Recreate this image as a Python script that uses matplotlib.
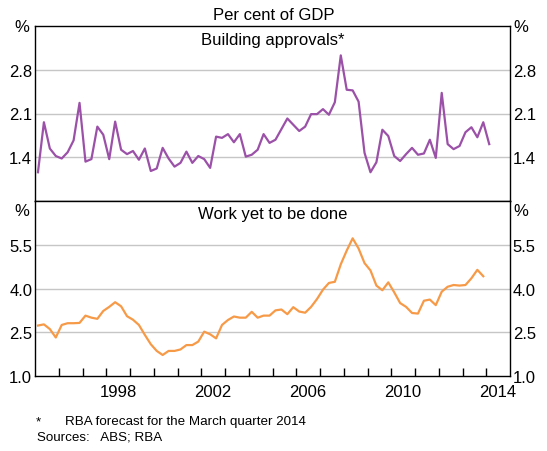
import matplotlib
matplotlib.use('Agg')
import matplotlib.pyplot as plt
import numpy as np

plt.rcParams['font.family'] = ['Liberation Sans', 'DejaVu Sans']

# Quarterly data, March quarter 1995 onwards (per cent of GDP)
approvals = [1.16, 1.96, 1.54, 1.42, 1.38, 1.48, 1.67, 2.27, 1.33, 1.37,
             1.89, 1.76, 1.37, 1.97, 1.52, 1.45, 1.50, 1.36, 1.54, 1.18,
             1.22, 1.55, 1.38, 1.25, 1.31, 1.49, 1.31, 1.42, 1.37, 1.23,
             1.73, 1.71, 1.77, 1.64, 1.77, 1.41, 1.44, 1.52, 1.77, 1.63,
             1.68, 1.85, 2.02, 1.92, 1.82, 1.89, 2.09, 2.09, 2.17, 2.08,
             2.28, 3.03, 2.48, 2.47, 2.29, 1.47, 1.16, 1.32, 1.84, 1.74,
             1.42, 1.34, 1.45, 1.55, 1.44, 1.46, 1.68, 1.39, 2.43, 1.61,
             1.53, 1.58, 1.80, 1.88, 1.72, 1.96, 1.61]

work_yet = [2.73, 2.77, 2.61, 2.32, 2.75, 2.81, 2.81, 2.82, 3.07, 3.00,
            2.96, 3.23, 3.37, 3.53, 3.39, 3.05, 2.93, 2.75, 2.41, 2.09,
            1.86, 1.72, 1.86, 1.86, 1.91, 2.06, 2.06, 2.18, 2.52, 2.43,
            2.29, 2.75, 2.92, 3.04, 3.00, 3.00, 3.20, 3.00, 3.07, 3.07,
            3.25, 3.28, 3.12, 3.36, 3.21, 3.17, 3.37, 3.64, 3.96, 4.19,
            4.23, 4.83, 5.30, 5.72, 5.37, 4.87, 4.62, 4.10, 3.94, 4.21,
            3.87, 3.50, 3.37, 3.16, 3.14, 3.58, 3.62, 3.43, 3.89, 4.06,
            4.12, 4.10, 4.12, 4.35, 4.64, 4.42]

start_year = 1995
year_labels = ['1998', '2002', '2006', '2010', '2014']
top_ticks = [1.4, 2.1, 2.8]
bottom_ticks = [1.0, 2.5, 4.0, 5.5]

purple = '#9B51A8'
orange = '#F79A48'
grid_c = '#C6C6C6'
fs = 12
fs_small = 9.6

W, H = 547, 452
fig = plt.figure(figsize=(W / 100, H / 100), dpi=100)
L, R = 35 / W, 510 / W
ax1 = fig.add_axes([L, (H - 202) / H, R - L, 175 / H])
ax2 = fig.add_axes([L, (H - 377) / H, R - L, 175 / H])

x_app = start_year + 0.125 + 0.25 * np.arange(len(approvals))
x_work = start_year + 0.125 + 0.25 * np.arange(len(work_yet))

for ax in (ax1, ax2):
    ax.set_xlim(1995, 2015)
    for s in ax.spines.values():
        s.set_color('black')
        s.set_linewidth(1.0)
    ax.tick_params(axis='y', length=0, labelsize=fs, pad=2,
                   labelleft=True, labelright=True)

# Top panel
ax1.set_ylim(0.7, 3.5)
ax1.set_yticks(top_ticks)
ax1.set_yticklabels([f'{v:.1f}' for v in top_ticks])
for v in top_ticks:
    ax1.axhline(v, color=grid_c, lw=1.0, zorder=1)
ax1.plot(x_app, approvals, color=purple, lw=1.6, zorder=3)
ax1.set_xticks([])
ax1.text(0.5, 1 - 13 / 175, 'Building approvals*', transform=ax1.transAxes,
         ha='center', va='center', fontsize=fs)

# Bottom panel
ax2.set_ylim(1.0, 7.0)
ax2.set_yticks(bottom_ticks)
ax2.set_yticklabels([f'{v:.1f}' for v in bottom_ticks])
for v in bottom_ticks[1:]:
    ax2.axhline(v, color=grid_c, lw=1.0, zorder=1)
ax2.plot(x_work, work_yet, color=orange, lw=1.6, zorder=3)
ax2.set_xticks([int(y) + 0.5 for y in year_labels])
ax2.set_xticklabels(year_labels)
ax2.set_xticks(np.arange(1996, 2015), minor=True)
ax2.tick_params(axis='x', which='major', length=0, labelsize=fs, pad=6)
ax2.tick_params(axis='x', which='minor', length=6, direction='in', width=1.0)
ax2.text(0.5, 1 - 13 / 175, 'Work yet to be done', transform=ax2.transAxes,
         ha='center', va='center', fontsize=fs)

# % labels
for yy in (28, 212):
    fig.text(22 / W, 1 - yy / H, '%', ha='center', va='center', fontsize=fs)
    fig.text(521 / W, 1 - yy / H, '%', ha='center', va='center', fontsize=fs)

fig.text(0.5, 1 - 15 / H, 'Per cent of GDP', ha='center', va='center', fontsize=fs)

fig.text(36 / W, 1 - 422 / H, '*', ha='left', va='center', fontsize=fs_small)
fig.text(65 / W, 1 - 422 / H, 'RBA forecast for the March quarter 2014',
         ha='left', va='center', fontsize=fs_small)
fig.text(37 / W, 1 - 438 / H, 'Sources:   ABS; RBA', ha='left', va='center',
         fontsize=fs_small)

fig.savefig('out.png', dpi=100)
